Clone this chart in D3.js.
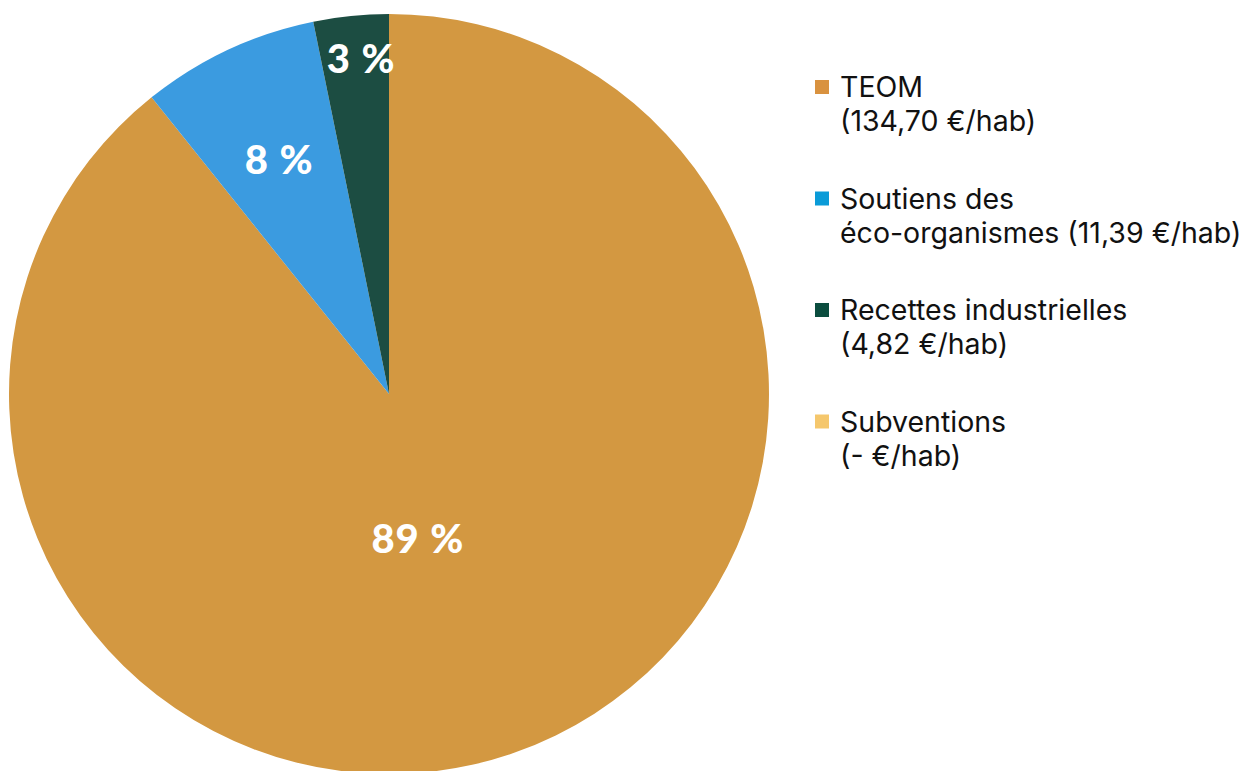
<!DOCTYPE html>
<html>
<head>
<meta charset="utf-8">
<script src="https://cdn.jsdelivr.net/npm/d3@7"></script>
<style>
  body { margin: 0; background: #fff; }
  svg { display: block; }
</style>
</head>
<body>
<div id="canvas"></div>
<script>
"use strict"

/* data */
let categories = ["TEOM", "Soutiens des éco-organismes", "Recettes industrielles", "Subventions"];
let values = [134.70, 11.39, 4.82, 0];
let percentLabels = ["89 %", "8 %", "3 %", ""];
let legendLines = [
  ["TEOM", "(134,70 €/hab)"],
  ["Soutiens des", "éco-organismes (11,39 €/hab)"],
  ["Recettes industrielles", "(4,82 €/hab)"],
  ["Subventions", "(- €/hab)"]
];

let sliceColors = ["#d39841", "#3b9be0", "#1c4d42", "#f5c76c"];
let legendColors = ["#d9923f", "#0a9bd8", "#0b4d3f", "#f5c76c"];

let drawing = d3.select("#canvas")
  .append("svg")
  .attr("width", 1247)
  .attr("height", 771);

let cx = 389, cy = 394, radius = 380;

let pie = d3.pie().sort(null).value(d => d);
let arcs = pie(values);
let arc = d3.arc().innerRadius(0).outerRadius(radius);

let chart = drawing.append("g")
  .attr("transform", `translate(${cx},${cy})`);

/* slices */
chart.selectAll("path.slice")
  .data(arcs.filter(d => d.value > 0))
  .enter()
  .append("path")
  .attr("class", "slice")
  .attr("d", arc)
  .attr("fill", d => sliceColors[d.index]);

/* label radius per slice (big slice label sits closer to centre) */
let labelRadius = [147, 259, 337];
let labelShift = [8, 0, 1];

function labelPos(d) {
  let a = (d.startAngle + d.endAngle) / 2 + labelShift[d.index] * Math.PI / 180;
  return [labelRadius[d.index] * Math.sin(a), -labelRadius[d.index] * Math.cos(a)];
}

chart.selectAll("text.pct")
  .data(arcs.filter(d => d.value > 0))
  .enter()
  .append("text")
  .attr("class", "pct")
  .attr("x", d => labelPos(d)[0])
  .attr("y", d => labelPos(d)[1])
  .attr("dy", "0.36em")
  .attr("text-anchor", "middle")
  .attr("fill", "#fff")
  .attr("font-family", "Lato, 'Open Sans', sans-serif")
  .attr("font-weight", 900)
  .attr("font-size", 40)
  .attr("letter-spacing", 1)
  .text(d => percentLabels[d.index]);

/* legend */
let legendY = d3.scaleBand()
  .domain(categories)
  .range([66, 512]);

let legend = drawing.append("g")
  .attr("transform", "translate(815,0)");

let item = legend.selectAll("g.item")
  .data(categories)
  .enter()
  .append("g")
  .attr("class", "item")
  .attr("transform", d => `translate(0,${legendY(d)})`);

item.append("rect")
  .attr("x", 0)
  .attr("y", 14)
  .attr("width", 14)
  .attr("height", 14)
  .attr("fill", (d, i) => legendColors[i]);

item.append("text")
  .attr("x", 25)
  .attr("y", 31)
  .attr("font-family", "Inter, 'Noto Sans', sans-serif")
  .attr("font-size", 28.5)
  .attr("fill", "#111")
  .each(function (d, i) {
    let t = d3.select(this);
    legendLines[i].forEach((line, j) => {
      t.append("tspan")
        .attr("x", 25)
        .attr("dy", j === 0 ? 0 : 34)
        .text(line);
    });
  });
</script>
</body>
</html>
